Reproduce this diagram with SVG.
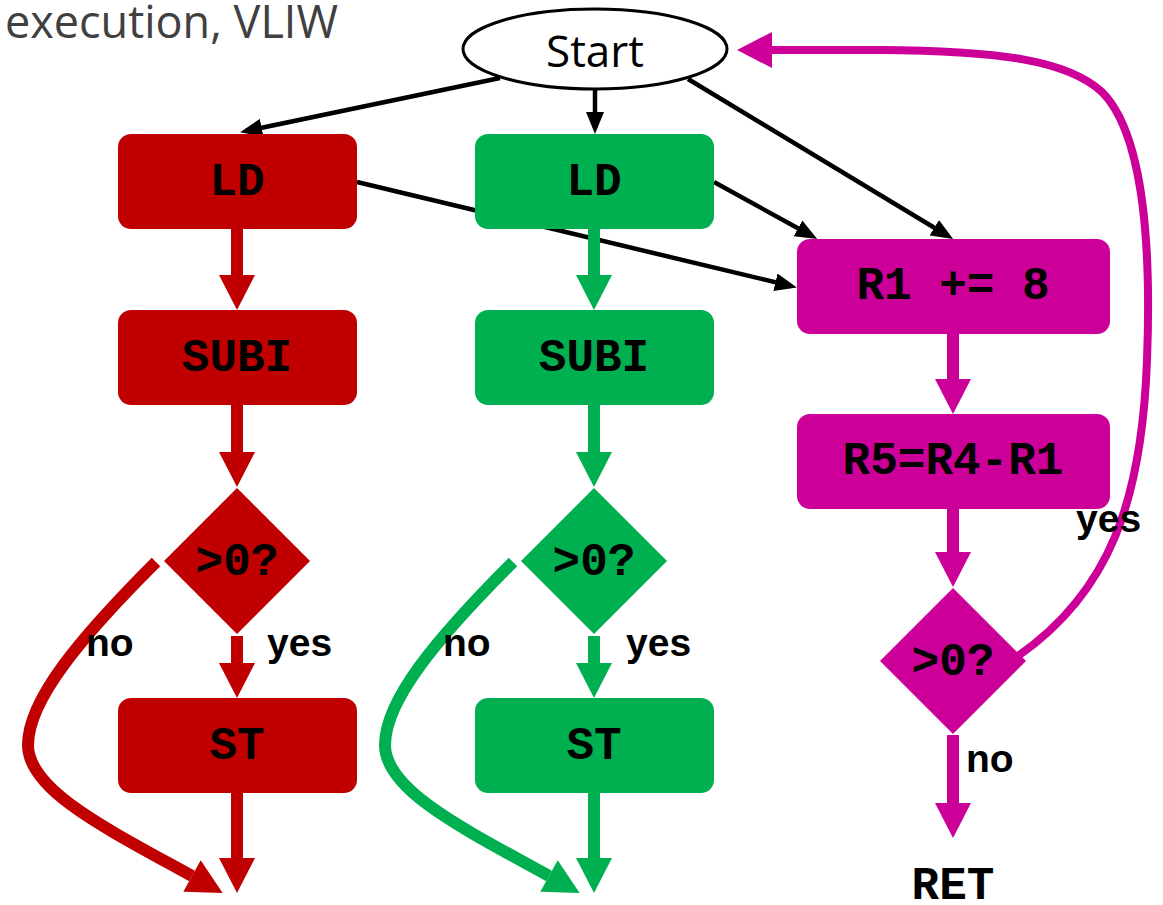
<svg xmlns="http://www.w3.org/2000/svg" width="1163" height="905" viewBox="0 0 1163 905">
  <style>
    .op { font-family: "Liberation Mono", "Courier New", monospace; font-weight: bold; font-size: 46px; fill: #000; text-anchor: middle; }
    .lbl { font-family: "Liberation Sans", Arial, sans-serif; font-weight: bold; font-size: 39px; fill: #000; }
    .red { fill: #C00000; }
    .grn { fill: #00B050; }
    .mag { fill: #CC0099; }
    .thin { stroke: #000; stroke-width: 4.5; fill: none; marker-end: url(#hBlack); }
    .sr { stroke: #C00000; stroke-width: 12; fill: none; }
    .sg { stroke: #00B050; stroke-width: 12; fill: none; }
    .sm { stroke: #CC0099; stroke-width: 12; fill: none; }
  </style>
  <defs>
    <marker id="hBlack" markerUnits="userSpaceOnUse" markerWidth="22" markerHeight="18" refX="16" refY="9" orient="auto">
      <path d="M0,0 L22,9 L0,18 z" fill="#000"/>
    </marker>
    <marker id="hRed" markerUnits="userSpaceOnUse" markerWidth="36" markerHeight="36" refX="0" refY="18" orient="auto" overflow="visible">
      <path d="M0,0 L35,18 L0,36 z" fill="#C00000"/>
    </marker>
    <marker id="hGrn" markerUnits="userSpaceOnUse" markerWidth="36" markerHeight="36" refX="0" refY="18" orient="auto" overflow="visible">
      <path d="M0,0 L35,18 L0,36 z" fill="#00B050"/>
    </marker>
    <marker id="hMag" markerUnits="userSpaceOnUse" markerWidth="36" markerHeight="36" refX="0" refY="18" orient="auto" overflow="visible">
      <path d="M0,0 L35,18 L0,36 z" fill="#CC0099"/>
    </marker>
  </defs>

  <rect width="1163" height="905" fill="#fff"/>

  <text x="338" y="38" font-family="'Open Sans', 'Liberation Sans', sans-serif" font-size="45" fill="#404040" text-anchor="end">execution, VLIW</text>

  <!-- connectors -->
  <g id="connectors">
    <!-- from Start -->
    <line class="thin" x1="500" y1="78" x2="246" y2="131"/>
    <line class="thin" x1="595" y1="89" x2="595" y2="128"/>
    <line class="thin" x1="688" y1="79" x2="948" y2="236"/>
    <!-- LD boxes to R1 += 8 -->
    <line class="thin" x1="357" y1="182" x2="791" y2="286"/>
    <line class="thin" x1="714" y1="182" x2="812" y2="236"/>

    <!-- red chain -->
    <line class="sr" x1="237" y1="229" x2="237" y2="275" marker-end="url(#hRed)"/>
    <line class="sr" x1="237" y1="405" x2="237" y2="452" marker-end="url(#hRed)"/>
    <line class="sr" x1="237" y1="636" x2="237" y2="663" marker-end="url(#hRed)"/>
    <line class="sr" x1="237" y1="793" x2="237" y2="858" marker-end="url(#hRed)"/>
    <path class="sr" d="M156,562 C80,638 28,700 28,745 C28,790 105,828 192,876" marker-end="url(#hRed)"/>

    <!-- green chain -->
    <line class="sg" x1="594" y1="229" x2="594" y2="275" marker-end="url(#hGrn)"/>
    <line class="sg" x1="594" y1="405" x2="594" y2="452" marker-end="url(#hGrn)"/>
    <line class="sg" x1="594" y1="636" x2="594" y2="663" marker-end="url(#hGrn)"/>
    <line class="sg" x1="594" y1="793" x2="594" y2="858" marker-end="url(#hGrn)"/>
    <path class="sg" d="M513,562 C437,638 385,700 385,745 C385,790 462,828 549,876" marker-end="url(#hGrn)"/>

    <!-- magenta chain -->
    <line class="sm" x1="953" y1="333" x2="953" y2="379" marker-end="url(#hMag)"/>
    <line class="sm" x1="953" y1="509" x2="953" y2="552" marker-end="url(#hMag)"/>
    <line class="sm" x1="953" y1="735" x2="953" y2="803" marker-end="url(#hMag)"/>
    <path d="M1018,656 C1110,592 1142,500 1147,360 C1152,230 1140,130 1102,92 C1067,60 1000,51 880,50 L772,50" stroke="#CC0099" stroke-width="8" fill="none" marker-end="url(#hMag)"/>
  </g>

  <!-- nodes -->
  <g id="start">
    <ellipse cx="595" cy="49" rx="132" ry="40" fill="#fff" stroke="#000" stroke-width="3"/>
    <text x="595" y="67" font-family="'Open Sans', 'Liberation Sans', sans-serif" font-size="44" fill="#000" text-anchor="middle">Start</text>
  </g>

  <g id="ld-red">
    <rect class="red" x="118" y="134" width="239" height="95" rx="13"/>
    <text class="op" x="237" y="195">LD</text>
  </g>
  <g id="subi-red">
    <rect class="red" x="118" y="310" width="239" height="95" rx="13"/>
    <text class="op" x="237" y="371">SUBI</text>
  </g>
  <g id="test-red">
    <polygon class="red" points="237,488 310,561 237,634 164,561"/>
    <text class="op" x="237" y="575">&gt;0?</text>
  </g>
  <g id="st-red">
    <rect class="red" x="118" y="698" width="239" height="95" rx="13"/>
    <text class="op" x="237" y="759">ST</text>
  </g>

  <g id="ld-green">
    <rect class="grn" x="475" y="134" width="239" height="95" rx="13"/>
    <text class="op" x="594" y="195">LD</text>
  </g>
  <g id="subi-green">
    <rect class="grn" x="475" y="310" width="239" height="95" rx="13"/>
    <text class="op" x="594" y="371">SUBI</text>
  </g>
  <g id="test-green">
    <polygon class="grn" points="594,488 667,561 594,634 521,561"/>
    <text class="op" x="594" y="575">&gt;0?</text>
  </g>
  <g id="st-green">
    <rect class="grn" x="475" y="698" width="239" height="95" rx="13"/>
    <text class="op" x="594" y="759">ST</text>
  </g>

  <g id="add-r1">
    <rect class="mag" x="797" y="239" width="313" height="95" rx="13"/>
    <text class="op" x="953" y="299" xml:space="preserve">R1 += 8</text>
  </g>
  <g id="sub-r5">
    <rect class="mag" x="797" y="414" width="313" height="95" rx="13"/>
    <text class="op" x="953" y="474">R5=R4-R1</text>
  </g>
  <g id="test-mag">
    <polygon class="mag" points="953,588 1026,661 953,734 880,661"/>
    <text class="op" x="953" y="675">&gt;0?</text>
  </g>
  <g id="ret">
    <text class="op" x="953" y="899">RET</text>
  </g>

  <!-- branch labels -->
  <text class="lbl" x="86" y="656">no</text>
  <text class="lbl" x="267" y="656">yes</text>
  <text class="lbl" x="443" y="656">no</text>
  <text class="lbl" x="626" y="656">yes</text>
  <text class="lbl" x="1076" y="532">yes</text>
  <text class="lbl" x="966" y="772">no</text>
</svg>
